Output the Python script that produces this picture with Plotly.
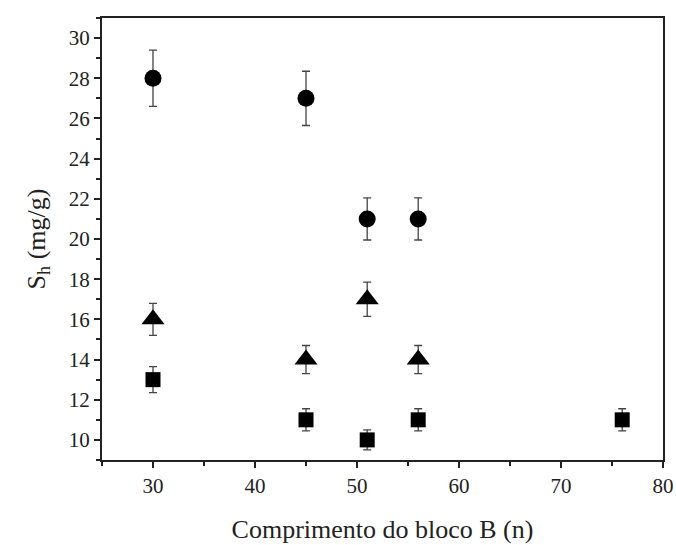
import plotly.graph_objects as go

# Block length n and sorption capacity S_h (mg/g) for three series
n_circle = [30, 45, 51, 56]
sh_circle = [28, 27, 21, 21]
err_circle = [1.4, 1.35, 1.05, 1.05]

n_triangle = [30, 45, 51, 56]
sh_triangle = [16, 14, 17, 14]
err_triangle = [0.8, 0.7, 0.85, 0.7]

n_square = [30, 45, 51, 56, 76]
sh_square = [13, 11, 10, 11, 11]
err_square = [0.65, 0.55, 0.5, 0.55, 0.55]

FONT = "Liberation Serif"
INK = "#222222"


def series(x, y, err, symbol, size):
    return go.Scatter(
        x=x, y=y, mode="markers",
        marker=dict(symbol=symbol, size=size, color="black"),
        error_y=dict(type="data", array=err, visible=True,
                     color="#444444", thickness=1.3, width=4),
        showlegend=False,
    )


fig = go.Figure()
fig.add_trace(series(n_circle, sh_circle, err_circle, "circle", 17))
fig.add_trace(series(n_triangle, sh_triangle, err_triangle, "triangle-up", 20))
fig.add_trace(series(n_square, sh_square, err_square, "square", 15))

fig.update_layout(
    width=676, height=545,
    margin=dict(l=102, r=13, t=18, b=85, autoexpand=False),
    paper_bgcolor="white", plot_bgcolor="white",
    font=dict(family=FONT, size=21, color=INK),
)

fig.update_xaxes(
    range=[25, 80], dtick=10, tick0=0,
    showline=True, linecolor=INK, linewidth=2, mirror=True,
    ticks="outside", ticklen=6, tickwidth=1.5, tickcolor=INK,
    showgrid=False, zeroline=False, automargin=False,
    tickfont=dict(family=FONT, size=21, color=INK),
    minor=dict(dtick=5, ticks="outside", ticklen=4,
               tickwidth=1.5, tickcolor=INK),
    title=dict(text="Comprimento do bloco B (n)",
               font=dict(family=FONT, size=26, color=INK),
               standoff=23),
)
fig.update_yaxes(
    range=[9, 31], dtick=2, tick0=0,
    showline=True, linecolor=INK, linewidth=2, mirror=True,
    ticks="outside", ticklen=6, tickwidth=1.5, tickcolor=INK,
    showgrid=False, zeroline=False, automargin=False,
    tickfont=dict(family=FONT, size=21, color=INK),
    minor=dict(dtick=1, ticks="outside", ticklen=4,
               tickwidth=1.5, tickcolor=INK),
    title=dict(text="S<sub>h</sub> (mg/g)",
               font=dict(family=FONT, size=26, color=INK),
               standoff=16),
)

fig.write_html("out.html")
